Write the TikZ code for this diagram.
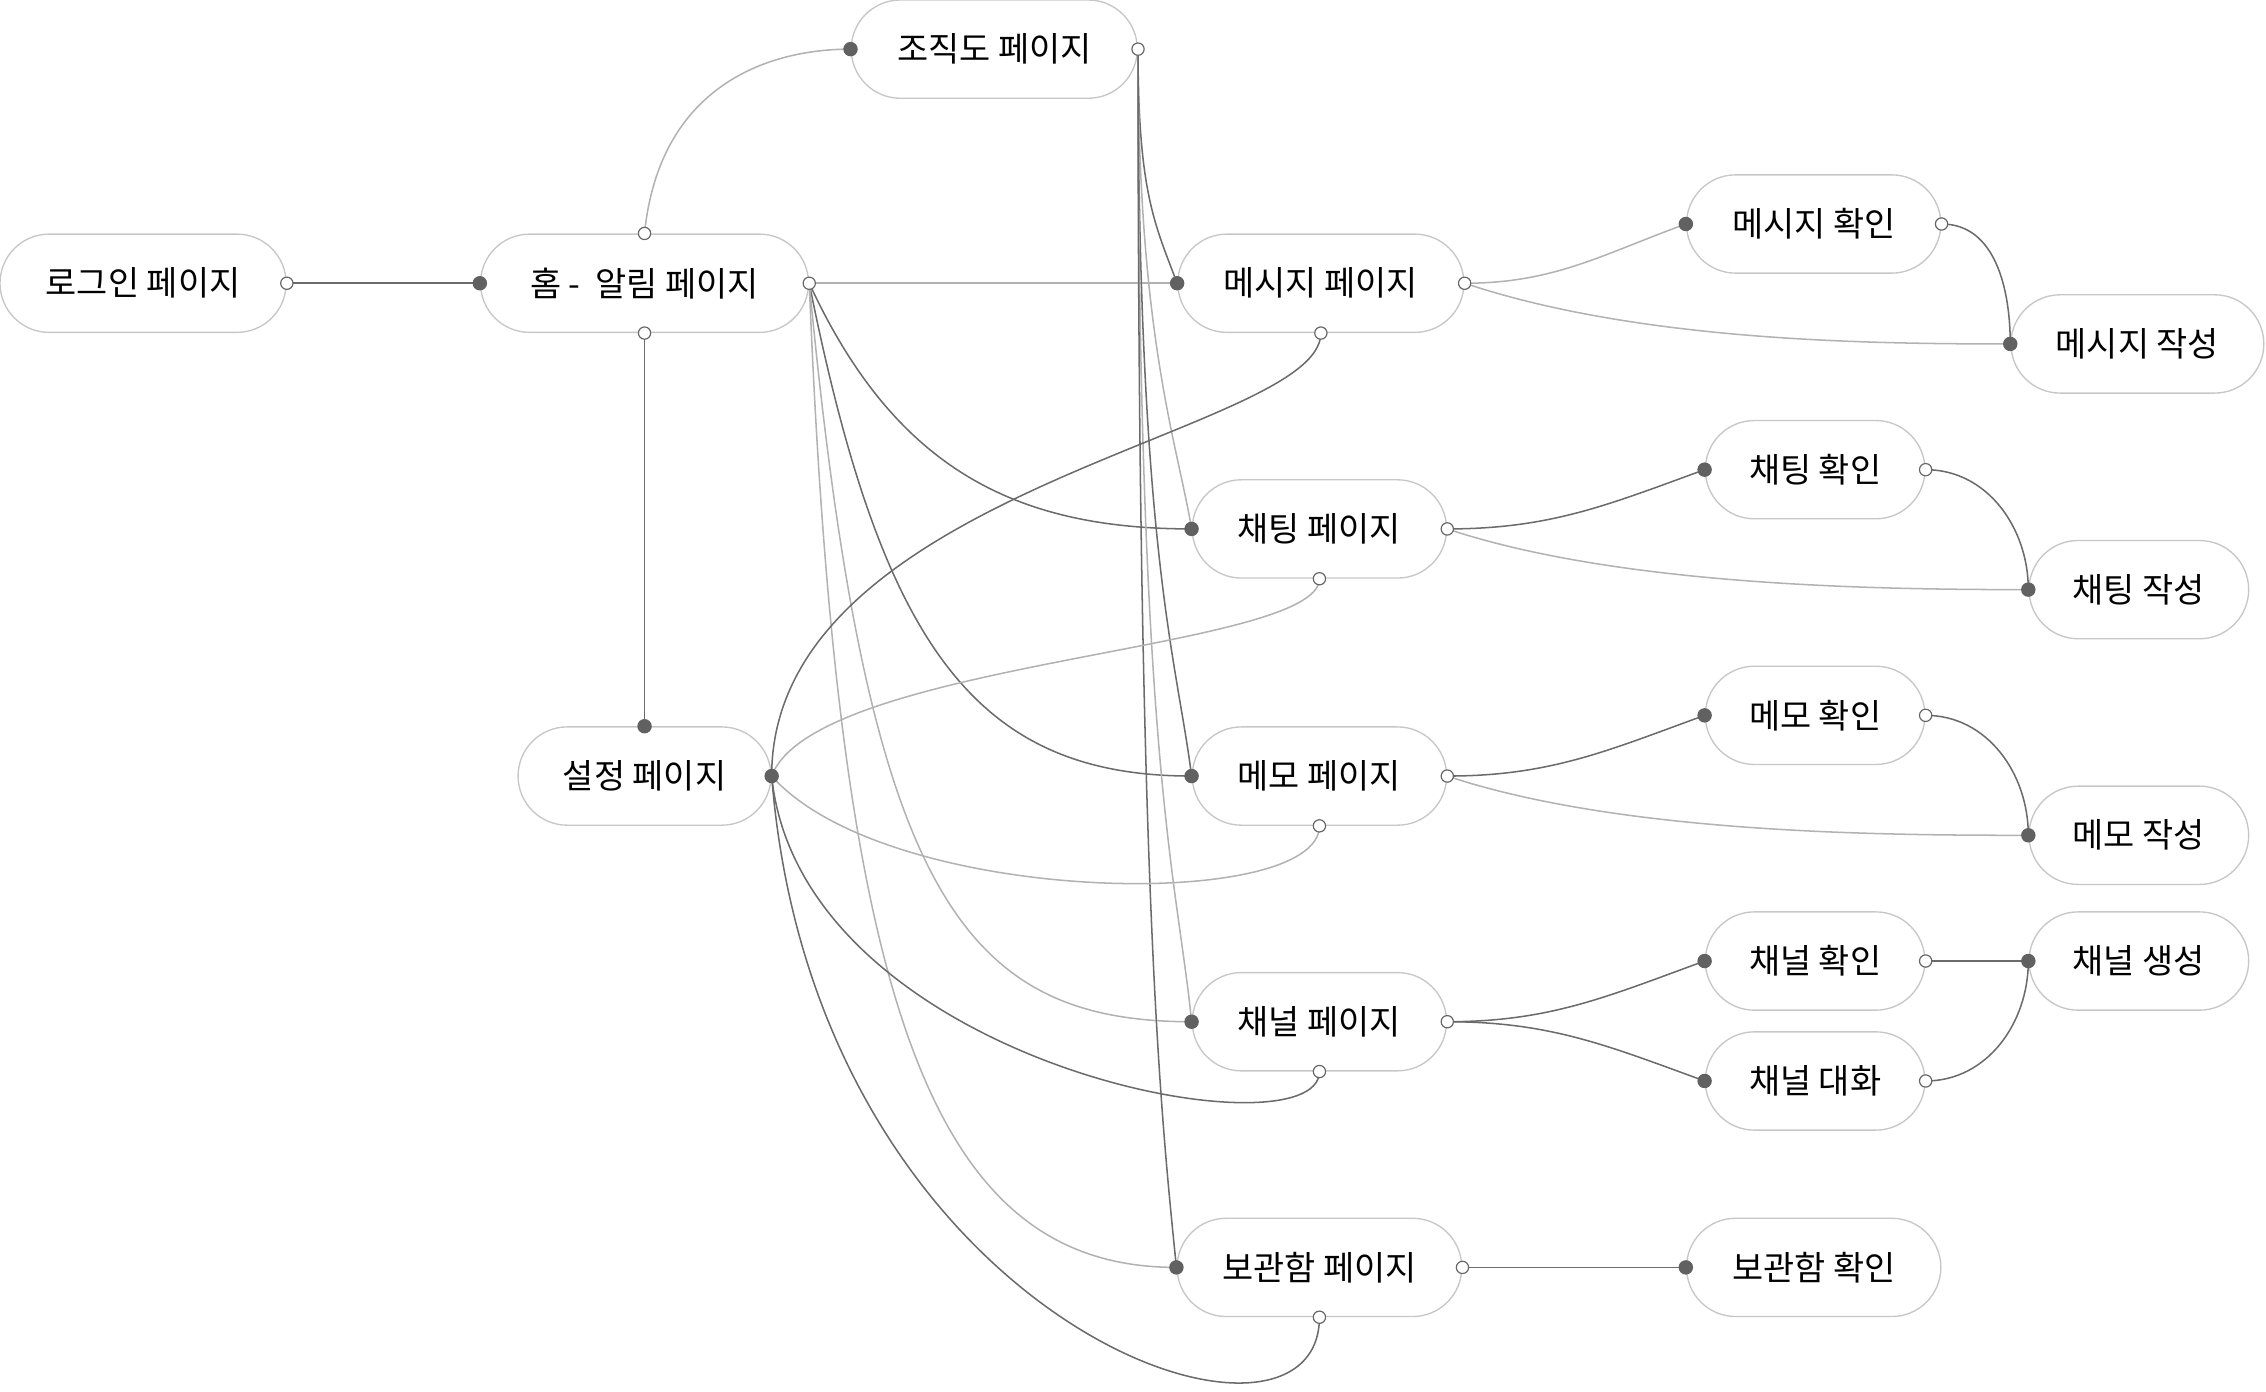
\documentclass[tikz,border=0pt]{standalone}
\usepackage{fontspec}
\newfontfamily\kr{Noto Sans CJK KR}
\begin{document}
\begin{tikzpicture}[x=0.3mm,y=-0.3mm,
  box/.style={draw=black!22,line width=0.8pt,rounded corners=34*0.3mm,minimum height=68*0.3mm,font=\kr\fontsize{20}{23}\selectfont,inner sep=0pt},
  dk/.style={draw=black!58,line width=0.9pt},
  lt/.style={draw=black!30,line width=0.9pt},
  op/.style={circle,draw=black!60,fill=white,line width=0.7pt,minimum size=8.5*0.3mm,inner sep=0pt},
  fl/.style={circle,fill=black!62,minimum size=10*0.3mm,inner sep=0pt}]
\useasboundingbox (0,0) rectangle (1568,963);
\node[box,minimum width=198*0.3mm] (login) at (99,196) {로그인 페이지};
\node[box,minimum width=227*0.3mm] (home) at (446,196) {홈 -\ \ 알림 페이지};
\node[box,minimum width=198*0.3mm] (org) at (688,34) {조직도 페이지};
\node[box,minimum width=175*0.3mm] (set) at (446,537) {설정 페이지};
\node[box,minimum width=198*0.3mm] (msg) at (914,196) {메시지 페이지};
\node[box,minimum width=176*0.3mm] (chat) at (913,366) {채팅 페이지};
\node[box,minimum width=176*0.3mm] (memo) at (913,537) {메모 페이지};
\node[box,minimum width=176*0.3mm] (chan) at (913,707) {채널 페이지};
\node[box,minimum width=197*0.3mm] (stor) at (913,877) {보관함 페이지};
\node[box,minimum width=176*0.3mm] (msgc) at (1255,155) {메시지 확인};
\node[box,minimum width=175*0.3mm] (msgw) at (1479,238) {메시지 작성};
\node[box,minimum width=152*0.3mm] (chatc) at (1256,325) {채팅 확인};
\node[box,minimum width=152*0.3mm] (chatw) at (1480,408) {채팅 작성};
\node[box,minimum width=152*0.3mm] (memoc) at (1256,495) {메모 확인};
\node[box,minimum width=152*0.3mm] (memow) at (1480,578) {메모 작성};
\node[box,minimum width=152*0.3mm] (chanc) at (1256,665) {채널 확인};
\node[box,minimum width=152*0.3mm] (chann) at (1480,665) {채널 생성};
\node[box,minimum width=152*0.3mm] (chant) at (1256,748) {채널 대화};
\node[box,minimum width=176*0.3mm] (storc) at (1255,877) {보관함 확인};
% home-level
\draw[dk] (login.east) -- (home.west);
\draw[lt] (home.north) .. controls +(10,-100) and +(-60,0) .. (org.west);
\draw[dk] (home.south) -- (set.north);
\draw[lt] (home.east) -- (msg.west);
\draw[dk] (home.east) .. controls +(60,130) and +(-120,0) .. (chat.west);
\draw[dk] (home.east) .. controls +(50,250) and +(-150,0) .. (memo.west);
\draw[lt] (home.east) .. controls +(40,420) and +(-160,0) .. (chan.west);
\draw[lt] (home.east) .. controls +(20,500) and +(-170,0) .. (stor.west);
% org
\draw[dk] (org.east) .. controls +(0,100) and +(-15,-40) .. (msg.west);
\draw[lt] (org.east) .. controls +(0,200) and +(-10,-60) .. (chat.west);
\draw[dk] (org.east) .. controls +(0,350) and +(-10,-80) .. (memo.west);
\draw[lt] (org.east) .. controls +(0,500) and +(-10,-100) .. (chan.west);
\draw[dk] (org.east) .. controls +(0,600) and +(-10,-100) .. (stor.west);
% settings
\draw[dk] (set.east) .. controls +(0,-200) and +(0,70) .. (msg.south);
\draw[lt] (set.east) .. controls +(30,-80) and +(0,50) .. (chat.south);
\draw[lt] (set.east) .. controls +(80,90) and +(0,60) .. (memo.south);
\draw[dk] (set.east) .. controls +(20,200) and +(0,60) .. (chan.south);
\draw[dk] (set.east) .. controls +(30,380) and +(0,120) .. (stor.south);
% right side
\draw[lt] (msg.east) to[out=0,in=200] (msgc.west);
\draw[lt] (msg.east) .. controls +(120,40) and +(-100,0) .. (msgw.west);
\draw[dk] (msgc.east) to[out=0,in=90] (msgw.west);
\draw[dk] (chat.east) to[out=0,in=200] (chatc.west);
\draw[lt] (chat.east) .. controls +(120,40) and +(-100,0) .. (chatw.west);
\draw[dk] (chatc.east) to[out=0,in=90] (chatw.west);
\draw[dk] (memo.east) to[out=0,in=200] (memoc.west);
\draw[lt] (memo.east) .. controls +(120,40) and +(-100,0) .. (memow.west);
\draw[dk] (memoc.east) to[out=0,in=90] (memow.west);
\draw[dk] (chan.east) to[out=0,in=200] (chanc.west);
\draw[dk] (chan.east) to[out=0,in=160] (chant.west);
\draw[dk] (chanc.east) -- (chann.west);
\draw[dk] (chant.east) to[out=0,in=-90] (chann.west);
\draw[dk] (stor.east) -- (storc.west);
% ports
\foreach \p in {login.east,home.north,home.south,home.east,org.east,msg.east,msg.south,chat.east,chat.south,memo.east,memo.south,chan.east,chan.south,stor.east,stor.south,msgc.east,chatc.east,memoc.east,chanc.east,chant.east}
  \node[op] at (\p) {};
\foreach \p in {home.west,org.west,set.north,set.east,msg.west,chat.west,memo.west,chan.west,stor.west,msgc.west,msgw.west,chatc.west,chatw.west,memoc.west,memow.west,chanc.west,chant.west,chann.west,storc.west}
  \node[fl] at (\p) {};
\end{tikzpicture}
\end{document}
